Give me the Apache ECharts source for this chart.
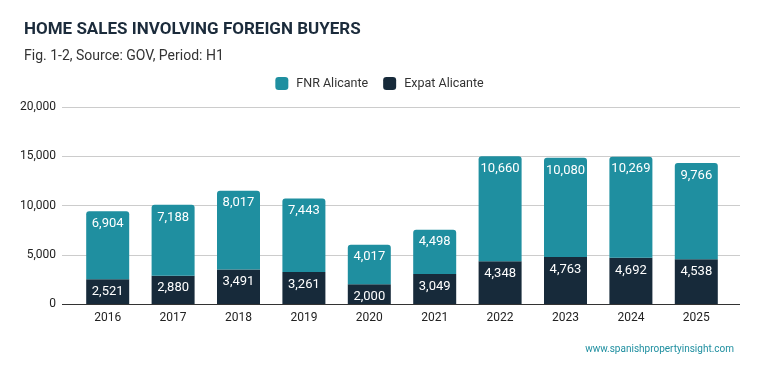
<!DOCTYPE html>
<html><head><meta charset="utf-8">
<script src="https://cdn.jsdelivr.net/npm/echarts@6/dist/echarts.min.js"></script>
<style>html,body{margin:0;padding:0;background:#fff}#c{width:759px;height:371px}</style>
</head><body><div id="c"></div>
<script>
const categories = ['2016','2017','2018','2019','2020','2021','2022','2023','2024','2025'];
const expat = [2521,2880,3491,3261,2000,3049,4348,4763,4692,4538];
const fnr = [6904,7188,8017,7443,4017,4498,10660,10080,10269,9766];
const yTicks = [0,5000,10000,15000,20000];

const chart = echarts.init(document.getElementById('c'));
const fmt = v => v.toLocaleString('en-US');
const lbl = {show:true, position:'insideTop', distance:6, color:'#fff', fontSize:13, fontFamily:'Roboto', formatter:p=>fmt(p.value)};
const yMin = yTicks[0], yMax = yTicks[yTicks.length-1];
const off = {show:false};
chart.setOption({
  animation:false,
  title:[
    {text:'HOME SALES INVOLVING FOREIGN BUYERS', left:19, top:16, textStyle:{fontFamily:'Roboto', fontSize:17, fontWeight:'bold', color:'#1b2b3b'}},
    {text:'Fig. 1-2, Source: GOV, Period: H1', left:19, top:44, textStyle:{fontFamily:'Roboto', fontSize:14, fontWeight:'normal', color:'#333'}},
    {text:'www.spanishpropertyinsight.com', right:20, top:339, textStyle:{fontFamily:'Roboto', fontSize:10, fontWeight:'normal', color:'#1f8fa0'}}
  ],
  legend:{top:72, left:'center', itemWidth:13, itemHeight:13, itemGap:15, textStyle:{fontFamily:'Roboto', fontSize:12.5, color:'#333', padding:[0,0,0,3]}, data:['FNR Alicante','Expat Alicante']},
  grid:[
    {left:62, right:19, top:107, bottom:67, show:false, borderWidth:0},
    {left:75, right:30, top:107, bottom:67, show:false, borderWidth:0}
  ],
  xAxis:[
    {type:'category', gridIndex:0, data:categories, show:false},
    {type:'category', gridIndex:1, data:categories, axisTick:off, axisLine:off, splitLine:off, splitArea:off, axisLabel:{color:'#222', fontFamily:'Roboto', fontSize:12, margin:8}}
  ],
  yAxis:[
    {type:'value', gridIndex:0, min:yMin, max:yMax, interval:5000, axisLine:off, axisTick:off, minorSplitLine:off, splitArea:off, axisLabel:{color:'#222', fontFamily:'Roboto', fontSize:12, margin:6, formatter:v=>fmt(v)}, splitLine:{show:true, lineStyle:{color:['#333','#ccc','#ccc','#ccc','#ccc']}}},
    {type:'value', gridIndex:1, min:yMin, max:yMax, interval:5000, show:false, axisLine:off, axisTick:off, axisLabel:off, splitLine:off}
  ],
  series:[
    {name:'Expat Alicante', type:'bar', stack:'a', xAxisIndex:1, yAxisIndex:1, data:expat, barWidth:43, itemStyle:{color:'#172a3a'}, label:lbl},
    {name:'FNR Alicante', type:'bar', stack:'a', xAxisIndex:1, yAxisIndex:1, data:fnr, barWidth:43, itemStyle:{color:'#1f8fa0', borderRadius:[3,3,0,0]}, label:lbl}
  ]
});
</script></body></html>
